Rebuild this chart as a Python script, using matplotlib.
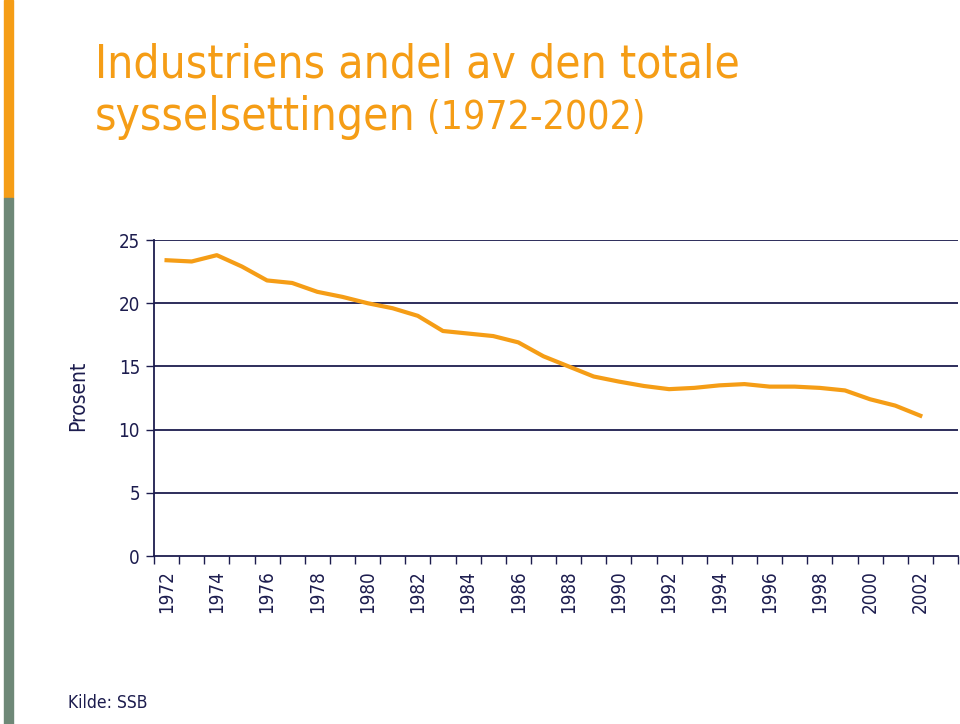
import matplotlib.pyplot as plt
import numpy as np

# andel sysselsatte i industrien, prosent (lest av figuren)
years = list(range(1972, 2003))
share = [23.4, 23.3, 23.8, 22.9, 21.8, 21.6, 20.9, 20.5, 20.0, 19.6, 19.0,
         17.8, 17.6, 17.4, 16.9, 15.8, 15.0, 14.2, 13.8, 13.45, 13.2,
         13.3, 13.5, 13.6, 13.4, 13.4, 13.3, 13.1, 12.4, 11.9, 11.1]
yticks = [0, 5, 10, 15, 20, 25]

orange = '#F59D16'
navy = '#1C1C4E'
grey_green = '#6E8877'

plt.rcParams['font.family'] = 'DejaVu Sans'
plt.rcParams['font.stretch'] = 'condensed'

fig = plt.figure(figsize=(9.6, 7.24), dpi=100)

# fargestripe til venstre
fig.add_artist(plt.Rectangle((4 / 960, 1 - 198 / 724), 9 / 960, 198 / 724,
                             color=orange, transform=fig.transFigure))
fig.add_artist(plt.Rectangle((4 / 960, 0), 9 / 960, 1 - 198 / 724,
                             color=grey_green, transform=fig.transFigure))

fig.text(95 / 960, 1 - 77 / 724, 'Industriens andel av den totale',
         color=orange, fontsize=33)
fig.text(95 / 960, 1 - 130 / 724, 'sysselsettingen', color=orange,
         fontsize=33)
fig.text(427 / 960, 1 - 129 / 724, '(1972-2002)', color=orange,
         fontsize=28)

ax = fig.add_axes([154 / 960, 1 - 556 / 724, 804 / 960, 316 / 724])
x = np.arange(len(years))
ax.plot(x, share, color=orange, lw=3, solid_joinstyle='round')

ax.set_xlim(-0.5, 31.5)
ax.set_ylim(0, 25)
ax.set_yticks(yticks)
ax.set_yticklabels([str(v) for v in yticks])
for v in yticks[1:]:
    ax.axhline(v, color=navy, lw=1.3, zorder=0)

ax.set_xticks(x[::2])
ax.set_xticklabels([str(y) for y in years[::2]], rotation=90)
ax.set_xticks(np.arange(-0.5, 32, 1), minor=True)
ax.tick_params(axis='x', which='major', length=0, pad=10, labelsize=13.5,
               labelcolor=navy)
ax.tick_params(axis='x', which='minor', length=6, width=1, color=navy,
               direction='out')
ax.tick_params(axis='y', length=6, width=1, color=navy, labelsize=13.5,
               labelcolor=navy, pad=4)

for s in ['top', 'right']:
    ax.spines[s].set_visible(False)
for s in ['left', 'bottom']:
    ax.spines[s].set_color(navy)
    ax.spines[s].set_linewidth(1.3)

fig.text(78 / 960, 1 - 396 / 724, 'Prosent', rotation=90, color=navy,
         fontsize=15, ha='center', va='center')
fig.text(68 / 960, 1 - 703 / 724, 'Kilde: SSB', color=navy, fontsize=12.5,
         va='center')

fig.savefig('out.png', dpi=100)
